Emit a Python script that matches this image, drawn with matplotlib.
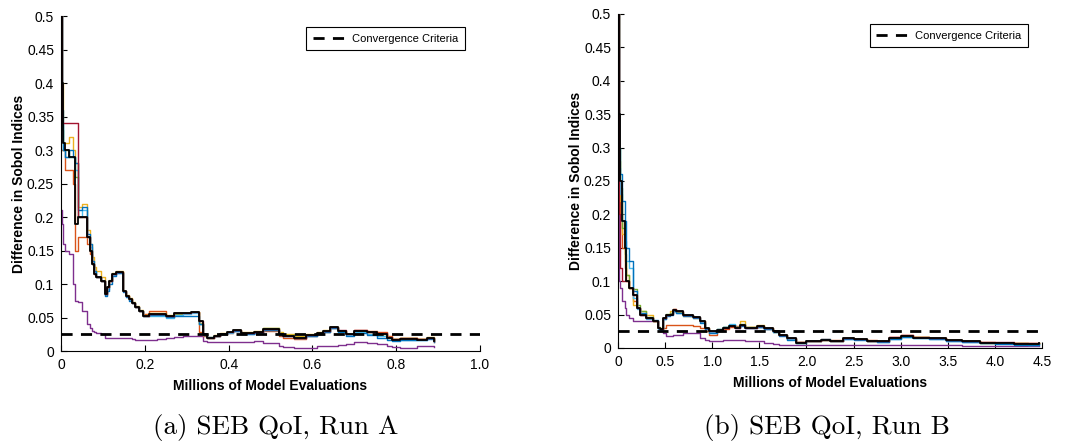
import matplotlib
matplotlib.use("Agg")
import matplotlib.pyplot as plt

plt.rcParams['font.family'] = ['Liberation Sans', 'DejaVu Sans']

# matlab default line colours
C_BLUE = (0.0, 0.447, 0.741)
C_ORANGE = (0.85, 0.325, 0.098)
C_YELLOW = (0.929, 0.694, 0.125)
C_PURPLE = (0.494, 0.184, 0.556)
C_GREEN = (0.466, 0.674, 0.188)
C_LBLUE = (0.301, 0.745, 0.933)
C_DRED = (0.635, 0.078, 0.184)

criteria = 0.025
yticks = [0, 0.05, 0.1, 0.15, 0.2, 0.25, 0.3, 0.35, 0.4, 0.45, 0.5]
ytick_labels = ["0", "0.05", "0.1", "0.15", "0.2", "0.25", "0.3", "0.35", "0.4", "0.45", "0.5"]

# ---- Run A ----
a_xticks = [0, 0.2, 0.4, 0.6, 0.8, 1.0]
a_xtick_labels = ["0", "0.2", "0.4", "0.6", "0.8", "1.0"]
a_x = [0, 0.002, 0.005, 0.01, 0.02, 0.028, 0.034, 0.04, 0.05, 0.063,
       0.068, 0.073, 0.078, 0.083, 0.095, 0.105, 0.11, 0.115, 0.122, 0.13,
       0.149, 0.155, 0.162, 0.17, 0.177, 0.185, 0.196, 0.21, 0.23, 0.25,
       0.27, 0.29, 0.31, 0.33, 0.338, 0.348, 0.365, 0.38, 0.395, 0.41,
       0.43, 0.46, 0.483, 0.52, 0.53, 0.555, 0.585, 0.61, 0.625, 0.642,
       0.66, 0.68, 0.70, 0.73, 0.755, 0.777, 0.79, 0.81, 0.85, 0.873, 0.89]
a_black = [0.50, 0.40, 0.31, 0.30, 0.29, 0.29, 0.19, 0.20, 0.20, 0.17,
           0.15, 0.13, 0.115, 0.11, 0.105, 0.085, 0.095, 0.105, 0.115, 0.118,
           0.09, 0.082, 0.077, 0.072, 0.066, 0.06, 0.053, 0.055, 0.055, 0.053,
           0.056, 0.057, 0.058, 0.045, 0.025, 0.02, 0.023, 0.026, 0.028, 0.031,
           0.027, 0.028, 0.033, 0.026, 0.023, 0.02, 0.024, 0.027, 0.03, 0.036,
           0.03, 0.025, 0.03, 0.028, 0.026, 0.02, 0.017, 0.018, 0.017, 0.02, 0.015]
a_blue = [0.50, 0.36, 0.30, 0.29, 0.30, 0.29, 0.28, 0.21, 0.215, 0.175,
          0.16, 0.135, 0.12, 0.11, 0.105, 0.082, 0.09, 0.10, 0.112, 0.116,
          0.088, 0.08, 0.075, 0.071, 0.065, 0.06, 0.052, 0.054, 0.054, 0.051,
          0.053, 0.052, 0.052, 0.04, 0.024, 0.021, 0.023, 0.026, 0.028, 0.03,
          0.026, 0.027, 0.031, 0.024, 0.022, 0.019, 0.023, 0.026, 0.029, 0.034,
          0.028, 0.023, 0.027, 0.024, 0.02, 0.017, 0.015, 0.016, 0.017, 0.018, 0.014]
a_yellow = [0.50, 0.40, 0.31, 0.31, 0.32, 0.30, 0.28, 0.215, 0.22, 0.18,
            0.16, 0.14, 0.125, 0.12, 0.11, 0.088, 0.095, 0.106, 0.116, 0.12,
            0.09, 0.083, 0.079, 0.073, 0.067, 0.061, 0.054, 0.056, 0.056, 0.054,
            0.056, 0.057, 0.058, 0.042, 0.026, 0.021, 0.024, 0.027, 0.029, 0.032,
            0.028, 0.03, 0.034, 0.028, 0.026, 0.022, 0.025, 0.028, 0.031, 0.036,
            0.03, 0.026, 0.03, 0.029, 0.026, 0.021, 0.018, 0.019, 0.018, 0.021, 0.016]
a_green = [0.50, 0.33, 0.30, 0.30, 0.29, 0.29, 0.26, 0.20, 0.20, 0.17,
           0.15, 0.13, 0.118, 0.11, 0.105, 0.086, 0.095, 0.105, 0.115, 0.118,
           0.09, 0.082, 0.077, 0.072, 0.066, 0.06, 0.053, 0.054, 0.054, 0.051,
           0.055, 0.057, 0.058, 0.04, 0.025, 0.02, 0.023, 0.026, 0.028, 0.031,
           0.027, 0.029, 0.034, 0.027, 0.024, 0.021, 0.024, 0.027, 0.03, 0.036,
           0.03, 0.026, 0.03, 0.028, 0.026, 0.02, 0.018, 0.019, 0.018, 0.02, 0.015]
a_lblue = [0.50, 0.34, 0.30, 0.29, 0.29, 0.29, 0.27, 0.20, 0.21, 0.17,
           0.155, 0.13, 0.118, 0.11, 0.105, 0.084, 0.093, 0.104, 0.114, 0.117,
           0.089, 0.081, 0.076, 0.071, 0.065, 0.06, 0.052, 0.053, 0.053, 0.05,
           0.054, 0.055, 0.056, 0.04, 0.024, 0.02, 0.023, 0.025, 0.027, 0.03,
           0.026, 0.027, 0.032, 0.025, 0.023, 0.02, 0.023, 0.026, 0.029, 0.035,
           0.029, 0.024, 0.029, 0.026, 0.023, 0.019, 0.016, 0.017, 0.017, 0.019, 0.015]
a_dred = [0.50, 0.34, 0.34, 0.34, 0.34, 0.34, 0.34, 0.20, 0.20, 0.17,
          0.15, 0.13, 0.115, 0.11, 0.105, 0.085, 0.095, 0.105, 0.115, 0.118,
          0.09, 0.082, 0.077, 0.072, 0.066, 0.06, 0.053, 0.055, 0.055, 0.053,
          0.056, 0.057, 0.058, 0.045, 0.025, 0.02, 0.023, 0.026, 0.028, 0.031,
          0.027, 0.028, 0.033, 0.026, 0.023, 0.02, 0.024, 0.027, 0.03, 0.036,
          0.031, 0.026, 0.031, 0.029, 0.027, 0.021, 0.018, 0.019, 0.018, 0.02, 0.015]
a_orange = [0.30, 0.30, 0.30, 0.27, 0.27, 0.25, 0.15, 0.17, 0.17, 0.16,
            0.145, 0.13, 0.115, 0.11, 0.105, 0.085, 0.095, 0.105, 0.115, 0.118,
            0.09, 0.082, 0.077, 0.072, 0.066, 0.06, 0.055, 0.06, 0.06, 0.053,
            0.056, 0.057, 0.058, 0.028, 0.022, 0.02, 0.022, 0.025, 0.027, 0.03,
            0.027, 0.027, 0.03, 0.022, 0.02, 0.018, 0.022, 0.026, 0.029, 0.034,
            0.03, 0.026, 0.031, 0.03, 0.028, 0.022, 0.018, 0.019, 0.018, 0.019, 0.014]
a_purple = [0.21, 0.19, 0.16, 0.15, 0.145, 0.10, 0.075, 0.073, 0.06, 0.04,
            0.035, 0.03, 0.028, 0.027, 0.025, 0.02, 0.02, 0.02, 0.02, 0.02,
            0.019, 0.019, 0.019, 0.018, 0.016, 0.016, 0.016, 0.017, 0.018, 0.02,
            0.021, 0.022, 0.023, 0.023, 0.015, 0.013, 0.013, 0.013, 0.014, 0.014,
            0.014, 0.015, 0.012, 0.007, 0.006, 0.005, 0.005, 0.007, 0.008, 0.008,
            0.009, 0.011, 0.014, 0.012, 0.01, 0.008, 0.006, 0.005, 0.007, 0.007, 0.006]

# ---- Run B ----
b_xticks = [0, 0.5, 1.0, 1.5, 2.0, 2.5, 3.0, 3.5, 4.0, 4.5]
b_xtick_labels = ["0", "0.5", "1.0", "1.5", "2.0", "2.5", "3.0", "3.5", "4.0", "4.5"]
b_x = [0, 0.01, 0.02, 0.04, 0.07, 0.09, 0.12, 0.16, 0.2, 0.23,
       0.3, 0.37, 0.42, 0.45, 0.48, 0.51, 0.55, 0.58, 0.62, 0.69,
       0.8, 0.87, 0.92, 0.97, 1.05, 1.11, 1.18, 1.24, 1.29, 1.35,
       1.47, 1.55, 1.64, 1.71, 1.79, 1.89, 2.0, 2.15, 2.25, 2.39,
       2.5, 2.64, 2.75, 2.88, 3.0, 3.13, 3.3, 3.48, 3.65, 3.84,
       4.0, 4.2, 4.35, 4.47]
b_black = [0.50, 0.35, 0.25, 0.19, 0.15, 0.10, 0.09, 0.08, 0.06, 0.05,
           0.045, 0.04, 0.03, 0.028, 0.045, 0.05, 0.05, 0.057, 0.055, 0.05,
           0.047, 0.04, 0.03, 0.025, 0.027, 0.03, 0.033, 0.03, 0.035, 0.03,
           0.033, 0.03, 0.025, 0.02, 0.015, 0.008, 0.01, 0.012, 0.01, 0.015,
           0.013, 0.01, 0.01, 0.015, 0.018, 0.015, 0.015, 0.012, 0.01, 0.008,
           0.008, 0.006, 0.006, 0.007]
b_blue = [0.50, 0.30, 0.26, 0.22, 0.19, 0.15, 0.13, 0.085, 0.06, 0.052,
          0.045, 0.042, 0.03, 0.028, 0.043, 0.048, 0.05, 0.055, 0.052, 0.048,
          0.045, 0.038, 0.028, 0.023, 0.028, 0.032, 0.035, 0.03, 0.033, 0.03,
          0.032, 0.028, 0.024, 0.018, 0.012, 0.008, 0.011, 0.013, 0.011, 0.014,
          0.012, 0.01, 0.009, 0.014, 0.017, 0.015, 0.014, 0.011, 0.009, 0.007,
          0.006, 0.005, 0.005, 0.006]
b_yellow = [0.50, 0.28, 0.22, 0.17, 0.13, 0.11, 0.09, 0.065, 0.06, 0.055,
            0.05, 0.04, 0.03, 0.03, 0.045, 0.05, 0.055, 0.058, 0.054, 0.048,
            0.045, 0.04, 0.03, 0.024, 0.027, 0.031, 0.034, 0.032, 0.04, 0.031,
            0.034, 0.03, 0.024, 0.019, 0.014, 0.008, 0.011, 0.012, 0.011, 0.015,
            0.013, 0.011, 0.01, 0.015, 0.018, 0.016, 0.015, 0.012, 0.01, 0.008,
            0.008, 0.007, 0.006, 0.008]
b_green = [0.50, 0.30, 0.24, 0.18, 0.14, 0.11, 0.09, 0.088, 0.065, 0.055,
           0.046, 0.041, 0.031, 0.029, 0.045, 0.051, 0.052, 0.056, 0.054, 0.049,
           0.046, 0.04, 0.03, 0.025, 0.028, 0.031, 0.034, 0.031, 0.036, 0.031,
           0.033, 0.03, 0.025, 0.02, 0.015, 0.009, 0.011, 0.012, 0.011, 0.015,
           0.013, 0.011, 0.01, 0.015, 0.018, 0.016, 0.015, 0.012, 0.01, 0.008,
           0.008, 0.007, 0.006, 0.007]
b_lblue = [0.50, 0.27, 0.23, 0.19, 0.16, 0.13, 0.12, 0.075, 0.058, 0.05,
           0.044, 0.04, 0.029, 0.027, 0.044, 0.049, 0.051, 0.056, 0.053, 0.049,
           0.046, 0.039, 0.029, 0.024, 0.027, 0.031, 0.036, 0.031, 0.034, 0.03,
           0.032, 0.029, 0.024, 0.019, 0.013, 0.008, 0.011, 0.012, 0.011, 0.014,
           0.013, 0.01, 0.009, 0.014, 0.017, 0.015, 0.014, 0.011, 0.009, 0.007,
           0.007, 0.006, 0.005, 0.006]
b_dred = [0.50, 0.20, 0.12, 0.10, 0.10, 0.10, 0.09, 0.08, 0.06, 0.05,
          0.045, 0.04, 0.03, 0.028, 0.045, 0.05, 0.051, 0.058, 0.056, 0.05,
          0.047, 0.04, 0.03, 0.025, 0.027, 0.03, 0.033, 0.03, 0.035, 0.03,
          0.033, 0.03, 0.025, 0.02, 0.015, 0.009, 0.011, 0.012, 0.011, 0.015,
          0.014, 0.011, 0.011, 0.016, 0.019, 0.016, 0.015, 0.012, 0.01, 0.009,
          0.009, 0.007, 0.007, 0.008]
b_orange = [0.50, 0.25, 0.20, 0.15, 0.12, 0.10, 0.09, 0.07, 0.06, 0.05,
            0.045, 0.04, 0.03, 0.028, 0.03, 0.035, 0.035, 0.035, 0.035, 0.035,
            0.033, 0.03, 0.025, 0.02, 0.025, 0.028, 0.032, 0.033, 0.035, 0.032,
            0.032, 0.028, 0.025, 0.02, 0.014, 0.009, 0.011, 0.013, 0.012, 0.015,
            0.014, 0.012, 0.011, 0.016, 0.019, 0.016, 0.015, 0.012, 0.01, 0.009,
            0.008, 0.007, 0.007, 0.008]
b_purple = [0.45, 0.10, 0.09, 0.07, 0.06, 0.05, 0.045, 0.04, 0.04, 0.04,
            0.04, 0.04, 0.03, 0.026, 0.022, 0.018, 0.018, 0.02, 0.02, 0.022,
            0.022, 0.015, 0.012, 0.01, 0.011, 0.012, 0.012, 0.012, 0.012, 0.011,
            0.01, 0.008, 0.006, 0.005, 0.004, 0.004, 0.004, 0.005, 0.005, 0.004,
            0.004, 0.004, 0.004, 0.004, 0.004, 0.004, 0.004, 0.004, 0.003, 0.003,
            0.003, 0.003, 0.003, 0.003]


def panel(ax, x, series, black, xmax, xticks, xlabels):
    for y, c in series:
        ax.plot(x, y, drawstyle='steps-post', color=c, lw=1.0)
    ax.plot(x, black, drawstyle='steps-post', color='black', lw=1.3)
    ax.plot([0, xmax], [criteria, criteria], '--', color='black', lw=2.0,
            dashes=(4, 3), label='Convergence Criteria')

    ax.set_xlim(0, xmax)
    ax.set_ylim(0, 0.5)
    ax.set_xticks(xticks)
    ax.set_xticklabels(xlabels)
    ax.set_yticks(yticks)
    ax.set_yticklabels(ytick_labels)
    ax.spines['top'].set_visible(False)
    ax.spines['right'].set_visible(False)
    ax.tick_params(direction='in', length=4, labelsize=10, pad=5)
    ax.set_xlabel('Millions of Model Evaluations', fontsize=10, fontweight='bold', labelpad=5)
    ax.set_ylabel('Difference in Sobol Indices', fontsize=10, fontweight='bold', labelpad=1)
    return ax


fig = plt.figure(figsize=(10.67, 4.45), dpi=100)
ax1 = fig.add_axes([0.0572, 0.2112, 0.3927, 0.7528])
ax2 = fig.add_axes([0.5792, 0.2180, 0.3974, 0.7506])

panel(ax1, a_x,
      [(a_purple, C_PURPLE), (a_orange, C_ORANGE), (a_yellow, C_YELLOW),
       (a_green, C_GREEN), (a_lblue, C_LBLUE), (a_blue, C_BLUE), (a_dred, C_DRED)],
      a_black, 1.0, a_xticks, a_xtick_labels)
panel(ax2, b_x,
      [(b_purple, C_PURPLE), (b_orange, C_ORANGE), (b_yellow, C_YELLOW),
       (b_green, C_GREEN), (b_lblue, C_LBLUE), (b_blue, C_BLUE), (b_dred, C_DRED)],
      b_black, 4.5, b_xticks, b_xtick_labels)

for ax, anchor in [(ax1, (0.964, 0.967)), (ax2, (0.967, 0.970))]:
    leg = ax.legend(loc='upper right', bbox_to_anchor=anchor, fontsize=8,
                    fancybox=False, framealpha=1, edgecolor='black',
                    handlelength=3, borderpad=0.6, handletextpad=0.5,
                    borderaxespad=0)
    leg.get_frame().set_linewidth(0.8)

fig.text(0.258, 0.040, '(a) SEB QoI, Run A', ha='center', va='center',
         fontsize=19.5, family=['cmr10', 'DejaVu Serif'])
fig.text(0.775, 0.040, '(b) SEB QoI, Run B', ha='center', va='center',
         fontsize=19.5, family=['cmr10', 'DejaVu Serif'])

fig.savefig('out.png', dpi=100)
